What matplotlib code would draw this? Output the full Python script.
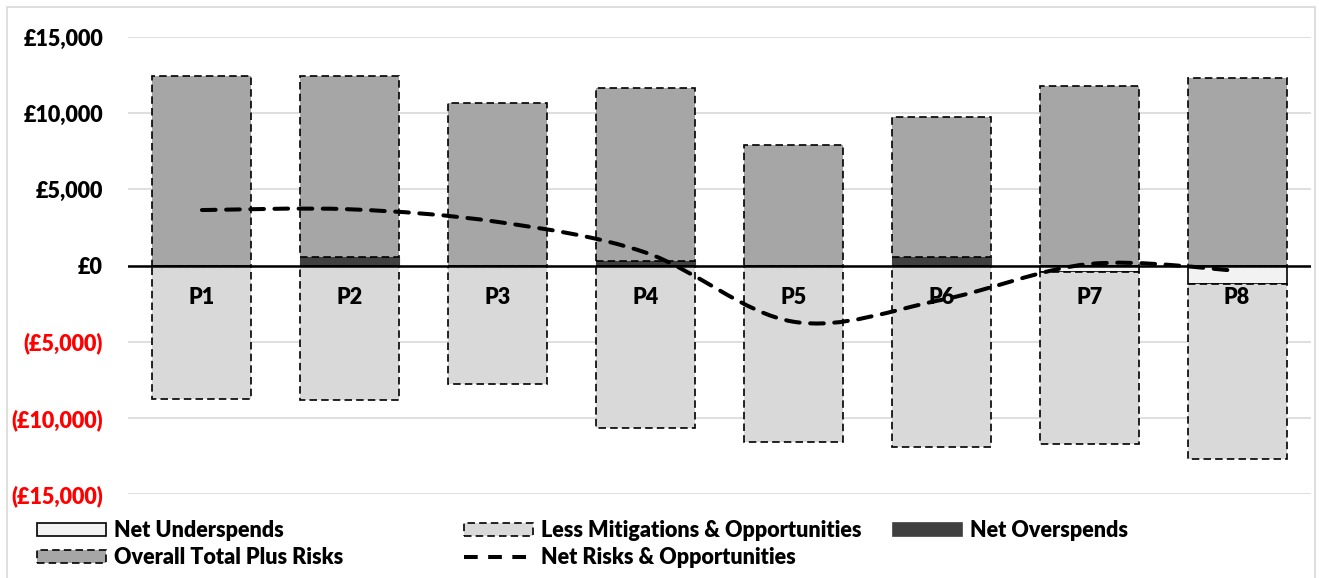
import numpy as np
import matplotlib
matplotlib.use('Agg')
import matplotlib.pyplot as plt
from matplotlib.path import Path
from matplotlib.patches import PathPatch, Patch, Rectangle
from matplotlib.lines import Line2D

plt.rcParams['font.family'] = ['Lato', 'DejaVu Sans']
plt.rcParams['font.weight'] = 'heavy'

periods = ['P1', 'P2', 'P3', 'P4', 'P5', 'P6', 'P7', 'P8']
net_overspends = [0, 580, 0, 320, 0, 580, 0, 0]
overall_total_plus_risks = [12450, 11870, 10650, 11330, 7900, 9170, 11800, 12300]
net_underspends = [0, 0, 0, 0, 0, 0, -410, -1230]
less_mitigations = [-8790, -8830, -7800, -10690, -11570, -11900, -11310, -11500]
net_risks = [3640, 3690, 2860, 850, -3690, -2260, 100, -340]
yticks = [-15000, -10000, -5000, 0, 5000, 10000, 15000]

FS = 15.5
WT = 'heavy'
DASH = (0, (4.5, 2.5))
LDASH = (0, (3.4, 2.6))

fig = plt.figure(figsize=(13.19, 5.78), dpi=100)
ax = fig.add_axes([128/1319, 1 - 494/578, (1311-128)/1319, (494-37)/578])

x = np.arange(len(periods))
w = 0.67

# positive side: overspends then total on top
ax.bar(x, net_overspends, w, color='#404040', edgecolor='#404040', lw=0.8, zorder=2)
ax.bar(x, overall_total_plus_risks, w, bottom=net_overspends, color='#A6A6A6',
       edgecolor='black', lw=1.2, linestyle=DASH, zorder=2)
# negative side: underspends then mitigations below
ax.bar(x, net_underspends, w, color='#F2F2F2', edgecolor='black', lw=1.2, zorder=2)
ax.bar(x, less_mitigations, w, bottom=net_underspends, color='#D9D9D9',
       edgecolor='black', lw=1.2, linestyle=DASH, zorder=2)

# smoothed line (excel style bezier through points)
pts = np.column_stack([x, net_risks]).astype(float)
ext = np.vstack([pts[0], pts, pts[-1]])
verts = [tuple(pts[0])]
codes = [Path.MOVETO]
for i in range(len(pts) - 1):
    p0, p1, p2, p3 = ext[i], ext[i+1], ext[i+2], ext[i+3]
    c1 = p1 + (p2 - p0) / 6.0
    c2 = p2 - (p3 - p1) / 6.0
    verts += [tuple(c1), tuple(c2), tuple(p2)]
    codes += [Path.CURVE4] * 3
ax.add_patch(PathPatch(Path(verts, codes), fill=False, edgecolor='black', lw=2.9,
                       linestyle=LDASH, capstyle='round', zorder=4))

ax.axhline(0, color='black', lw=1.8, zorder=3)

for i, p in enumerate(periods):
    ax.annotate(p, (i, 0), xytext=(0, -32.5), textcoords='offset pixels',
                ha='center', va='center', fontsize=FS, fontweight=WT, zorder=5)

ax.set_xlim(-0.5, len(periods) - 0.5)
ax.set_ylim(-15000, 15000)
ax.set_xticks([])
ax.set_yticks(yticks)
labels = []
for v in yticks:
    if v < 0:
        labels.append('(£{:,})'.format(-v))
    else:
        labels.append('£{:,}'.format(v))
ax.set_yticklabels(labels, fontsize=FS, fontweight=WT)
for t, v in zip(ax.get_yticklabels(), yticks):
    t.set_color('#FF0000' if v < 0 else 'black')
ax.tick_params(axis='y', length=0, pad=18)
ax.yaxis.grid(True, color='#D9D9D9', lw=1.2)
ax.set_axisbelow(True)
for s in ax.spines.values():
    s.set_visible(False)

# chart border
fig.patches.append(Rectangle((7/1319, -0.05), (1315-7)/1319, 1.05 - 7/578,
                             transform=fig.transFigure, fill=False,
                             edgecolor='#D9D9D9', lw=1.2))

h_under = Patch(facecolor='#F2F2F2', edgecolor='black', lw=1.2)
h_total = Patch(facecolor='#A6A6A6', edgecolor='black', lw=1.2, linestyle=DASH)
h_mitig = Patch(facecolor='#D9D9D9', edgecolor='black', lw=1.2, linestyle=DASH)
h_over = Patch(facecolor='#404040', edgecolor='#404040', lw=1.2)
h_risk = Line2D([], [], color='black', lw=2.9, linestyle=LDASH)

leg_kw = dict(loc='upper left', frameon=False, fontsize=FS, handlelength=3.2,
              handleheight=0.6, handletextpad=0.38, labelspacing=0.28,
              borderpad=0, borderaxespad=0)
cols = [([h_under, h_total], ['Net Underspends', 'Overall Total Plus Risks'], 37),
        ([h_mitig, h_risk], ['Less Mitigations & Opportunities', 'Net Risks & Opportunities'], 464),
        ([h_over], ['Net Overspends'], 893)]
for hs, ls, xpx in cols:
    leg = fig.legend(hs, ls, bbox_to_anchor=(xpx/1319, 1 - 520/578), **leg_kw)
    for t in leg.get_texts():
        t.set_fontweight(WT)

fig.savefig('out.png', dpi=100)
